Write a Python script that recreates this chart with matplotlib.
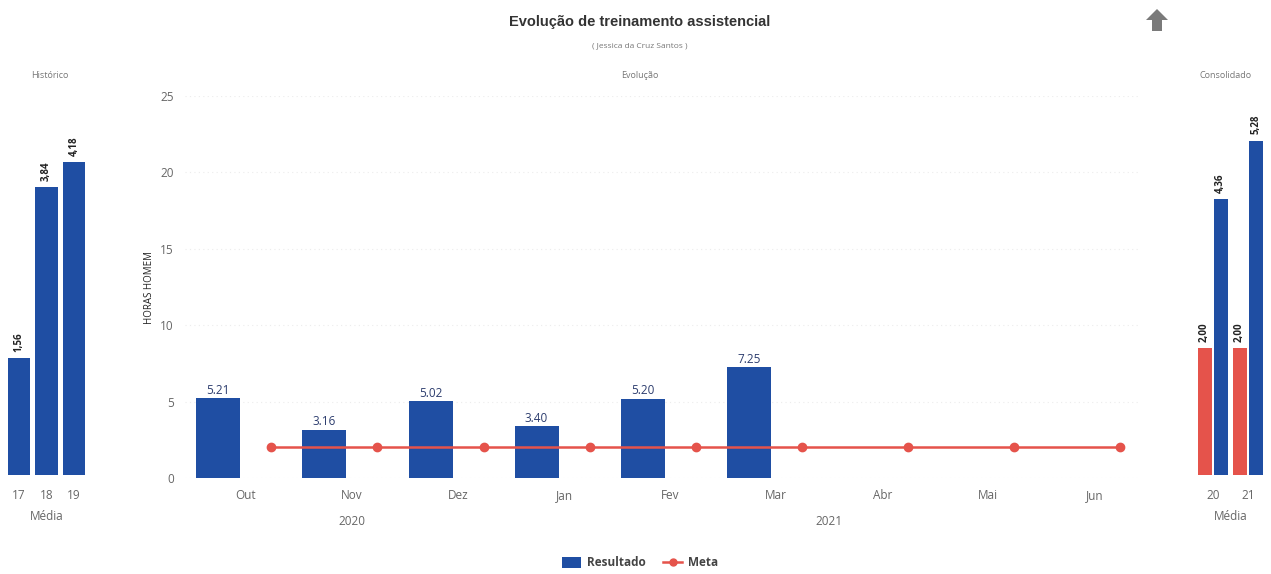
import matplotlib
matplotlib.use("Agg")
import matplotlib.pyplot as plt
from matplotlib.lines import Line2D
from matplotlib.patches import Patch, Polygon
import numpy as np

# ---- data ----
months = ["Out", "Nov", "Dez", "Jan", "Fev", "Mar", "Abr", "Mai", "Jun"]
resultado = [5.21, 3.16, 5.02, 3.40, 5.20, 7.25]
meta = [2.00, 2.00, 2.00, 2.00, 2.00, 2.00, 2.00, 2.00, 2.00]
years = ["2020", "2021"]
year_span = [(0, 2), (3, 8)]

hist_labels = ["17", "18", "19"]
hist_values = [1.56, 3.84, 4.18]

cons_labels = ["20", "21"]
cons_meta = [2.00, 2.00]
cons_result = [4.36, 5.28]

BLUE = "#1f4ea3"
RED = "#e5534b"
GRAY = "#666666"
FONT = ["Open Sans", "DejaVu Sans"]

plt.rcParams["font.family"] = FONT

W, H = 1271, 574
fig = plt.figure(figsize=(W / 100, H / 100), dpi=100)
fig.patch.set_facecolor("white")

def px_axes(x0, y0, x1, y1):
    return fig.add_axes([x0 / W, 1 - y1 / H, (x1 - x0) / W, (y1 - y0) / H])

def clean(ax):
    for s in ax.spines.values():
        s.set_visible(False)
    ax.tick_params(length=0)

def comma(v):
    return f"{v:.2f}".replace(".", ",")

# ---- main chart ----
ax = px_axes(185, 96, 1140, 478)
clean(ax)
x = np.arange(len(months))
xb = x[:len(resultado)] - 0.26
ax.bar(xb, resultado, width=0.415, color=BLUE, zorder=2)
for xi, v in zip(xb, resultado):
    ax.text(xi, v + 0.1, f"{v:.2f}", ha="center", va="bottom", fontsize=8.5,
            color="#2d3d6e", zorder=4)
ax.plot(x + 0.24, meta, color=RED, lw=1.8, marker="o", ms=6, zorder=3)
ax.set_ylim(0, 25)
ax.set_xlim(-0.575, 8.43)
ax.set_yticks([0, 5, 10, 15, 20, 25])
ax.set_xticks(x)
ax.set_xticklabels(months)
ax.tick_params(axis="y", labelsize=8.5, labelcolor=GRAY, pad=8)
ax.tick_params(axis="x", labelsize=8.5, labelcolor=GRAY, pad=8)
ax.yaxis.grid(True, color="#ececec", linestyle=(0, (1, 3)), lw=0.8)
ax.set_axisbelow(True)
ax.set_ylabel("HORAS HOMEM", fontsize=7, color="#222222", labelpad=4)
for yl, (a, b) in zip(years, year_span):
    ax.text((a + b) / 2, -0.115, yl, transform=ax.get_xaxis_transform(),
            ha="center", va="center", fontsize=8.5, color=GRAY)

# ---- historico ----
axh = px_axes(5, 100, 88, 475)
clean(axh)
xh = np.arange(len(hist_labels))
axh.bar(xh, hist_values, width=0.8, color=BLUE)
for xi, v in zip(xh, hist_values):
    axh.text(xi, v + 0.08, comma(v), rotation=90,
             ha="center", va="bottom", fontsize=7, fontweight="bold", color="#222222")
axh.set_xlim(-0.5, 2.5)
axh.set_ylim(0, 5)
axh.set_yticks([])
axh.set_xticks(xh)
axh.set_xticklabels(hist_labels)
axh.tick_params(axis="x", labelsize=8.5, labelcolor=GRAY, pad=10)
axh.set_xlabel("Média", fontsize=8.5, color=GRAY, labelpad=6)

# ---- consolidado ----
axc = px_axes(1195.5, 95, 1265.5, 475)
clean(axc)
xc = np.arange(len(cons_labels))
axc.bar(xc - 0.24, cons_meta, width=0.4, color=RED)
axc.bar(xc + 0.22, cons_result, width=0.4, color=BLUE)
for xi, v in zip(xc - 0.24, cons_meta):
    axc.text(xi, v + 0.1, comma(v), rotation=90,
             ha="center", va="bottom", fontsize=7, fontweight="bold", color="#222222")
for xi, v in zip(xc + 0.22, cons_result):
    axc.text(xi, v + 0.1, comma(v), rotation=90,
             ha="center", va="bottom", fontsize=7, fontweight="bold", color="#222222")
axc.set_xlim(-0.5, 1.5)
axc.set_ylim(0, 6)
axc.set_yticks([])
axc.set_xticks(xc)
axc.set_xticklabels(cons_labels)
axc.tick_params(axis="x", labelsize=8.5, labelcolor=GRAY, pad=10)
axc.set_xlabel("Média", fontsize=8.5, color=GRAY, labelpad=6)

# ---- titles ----
fig.text(640 / W, 1 - 22 / H, "Evolução de treinamento assistencial", ha="center",
         va="center", fontsize=10.5, fontweight="bold", color="#333333",
         family=["Liberation Sans", "DejaVu Sans"])
fig.text(640 / W, 1 - 46 / H, "( Jessica da Cruz Santos )", ha="center", va="center",
         fontsize=6, color="#777777")
fig.text(640 / W, 1 - 75 / H, "Evolução", ha="center", va="center", fontsize=6.5,
         color="#777777")
fig.text(50 / W, 1 - 75 / H, "Histórico", ha="center", va="center", fontsize=6.5,
         color="#777777")
fig.text(1226 / W, 1 - 75 / H, "Consolidado", ha="center", va="center", fontsize=6.5,
         color="#777777")

# ---- up arrow icon ----
pts = [(1157, 9), (1168, 20), (1162, 20), (1162, 31), (1152, 31), (1152, 20), (1146, 20)]
fig.patches.append(Polygon([(px / W, 1 - py / H) for px, py in pts], closed=True,
                           transform=fig.transFigure, facecolor="#7a7a7a",
                           edgecolor="none"))

# ---- legend ----
handles = [Patch(facecolor=BLUE, edgecolor="none", label="Resultado"),
           Line2D([0], [0], color=RED, lw=1.8, marker="o", ms=5, label="Meta")]
leg = fig.legend(handles=handles, loc="center", bbox_to_anchor=(640 / W, 1 - 563 / H),
                 ncol=2, frameon=False, fontsize=8.5, handlelength=1.6,
                 handleheight=1.1, columnspacing=1.5, handletextpad=0.5)
for t in leg.get_texts():
    t.set_fontweight("bold")
    t.set_color("#444444")

fig.savefig("out.png", dpi=100)
